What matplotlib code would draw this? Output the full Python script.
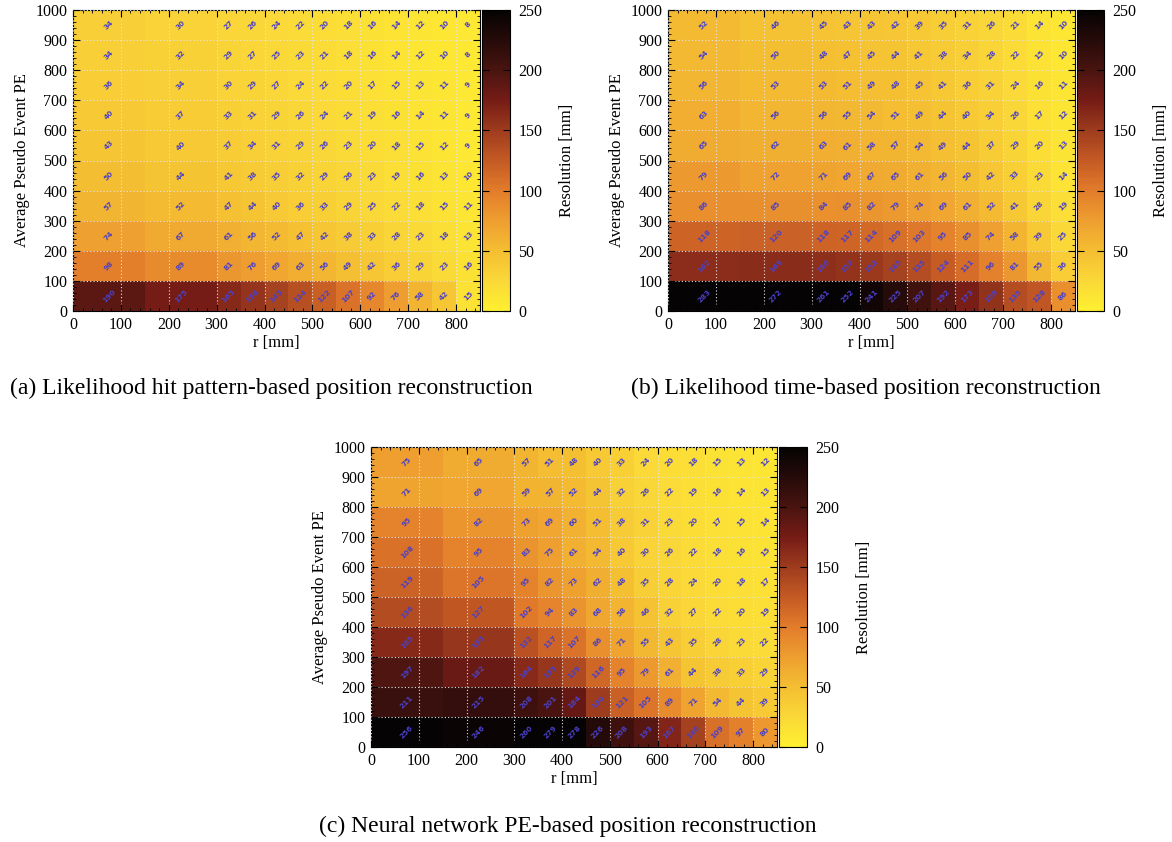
import numpy as np
import matplotlib
matplotlib.use("Agg")
import matplotlib.pyplot as plt
from matplotlib.colors import LinearSegmentedColormap
from matplotlib.ticker import AutoMinorLocator, MultipleLocator

plt.rcParams['font.family'] = ['Liberation Serif', 'DejaVu Serif']

# r bin edges [mm] and PE bin edges
r_edges = [0, 150, 300, 350, 400, 450, 500, 550, 600, 650, 700, 750, 800, 850]
pe_edges = [0, 100, 200, 300, 400, 500, 600, 700, 800, 900, 1000]

# Resolution [mm], rows listed from PE bin 900-1000 (top) down to 0-100 (bottom)
res_hit = [
    [34, 30, 27, 26, 24, 22, 20, 18, 16, 14, 12, 10, 8],
    [34, 32, 29, 27, 25, 23, 21, 18, 16, 14, 12, 10, 8],
    [36, 34, 30, 29, 27, 24, 22, 20, 17, 15, 13, 11, 9],
    [40, 37, 33, 31, 29, 26, 24, 21, 19, 16, 14, 11, 9],
    [43, 40, 37, 34, 31, 29, 26, 23, 20, 18, 15, 12, 9],
    [50, 44, 41, 38, 35, 32, 29, 26, 23, 19, 16, 13, 10],
    [57, 52, 47, 44, 40, 36, 33, 29, 25, 22, 18, 15, 11],
    [74, 67, 61, 56, 52, 47, 42, 38, 33, 28, 23, 18, 13],
    [98, 89, 81, 76, 69, 63, 56, 49, 42, 36, 29, 23, 16],
    [190, 175, 165, 156, 145, 134, 122, 107, 92, 76, 58, 42, 15],
]
res_time = [
    [52, 46, 45, 43, 43, 42, 39, 35, 31, 26, 21, 14, 10],
    [54, 50, 48, 47, 45, 44, 41, 38, 34, 28, 22, 15, 10],
    [56, 53, 53, 51, 49, 48, 45, 41, 36, 31, 24, 16, 11],
    [63, 56, 56, 55, 54, 51, 49, 44, 40, 34, 26, 17, 12],
    [65, 62, 63, 61, 58, 57, 54, 49, 44, 37, 29, 20, 13],
    [79, 72, 71, 69, 67, 65, 61, 56, 50, 42, 33, 23, 14],
    [86, 85, 84, 85, 82, 79, 74, 69, 61, 52, 41, 28, 19],
    [118, 120, 118, 117, 114, 109, 103, 95, 85, 74, 58, 39, 25],
    [162, 163, 160, 157, 152, 145, 135, 124, 111, 96, 81, 55, 36],
    [283, 272, 261, 252, 241, 225, 207, 192, 173, 158, 135, 128, 86],
]
res_nn = [
    [75, 65, 57, 51, 48, 40, 33, 24, 20, 18, 15, 13, 12],
    [71, 69, 59, 57, 52, 44, 32, 26, 22, 19, 16, 14, 13],
    [95, 82, 73, 69, 60, 51, 38, 31, 23, 20, 17, 15, 14],
    [108, 95, 83, 75, 61, 54, 40, 30, 26, 22, 18, 16, 15],
    [119, 105, 95, 82, 73, 62, 48, 35, 28, 24, 20, 18, 17],
    [136, 127, 102, 94, 83, 68, 58, 46, 32, 27, 22, 20, 19],
    [165, 155, 132, 117, 107, 86, 71, 55, 43, 35, 28, 23, 22],
    [197, 182, 164, 155, 139, 116, 95, 79, 61, 44, 38, 33, 29],
    [211, 215, 208, 201, 184, 150, 121, 105, 89, 71, 54, 44, 39],
    [256, 246, 260, 279, 278, 226, 208, 193, 167, 146, 109, 97, 80],
]
captions = [
    "(a) Likelihood hit pattern-based position reconstruction",
    "(b) Likelihood time-based position reconstruction",
    "(c) Neural network PE-based position reconstruction",
]

cmap = LinearSegmentedColormap.from_list("res", [
    (0.0, "#FFF030"), (0.1, "#FAD838"), (0.2, "#F4BE32"), (0.3, "#EE9E30"),
    (0.4, "#E27C2B"), (0.5, "#C45A24"), (0.6, "#9E3C1E"), (0.7, "#761C16"),
    (0.8, "#4A1410"), (0.9, "#260B09"), (1.0, "#050303")])

W, H = 1172, 842
fig = plt.figure(figsize=(W / 100, H / 100), dpi=100)


def px_axes(x0, y0, x1, y1):
    return fig.add_axes([x0 / W, 1 - y1 / H, (x1 - x0) / W, (y1 - y0) / H])


def draw(data, ax_box, cb_box, cap, cap_xy):
    ax = px_axes(*ax_box)
    cax = px_axes(*cb_box)
    z = np.array(data[::-1], dtype=float)
    mesh = ax.pcolormesh(r_edges, pe_edges, z, cmap=cmap, vmin=0, vmax=250,
                         shading='flat', rasterized=True)
    xc = [(a + b) / 2 for a, b in zip(r_edges[:-1], r_edges[1:])]
    yc = [(a + b) / 2 for a, b in zip(pe_edges[:-1], pe_edges[1:])]
    for i, yv in enumerate(yc):
        for j, xv in enumerate(xc):
            ax.text(xv, yv, f"{int(z[i, j])}", rotation=45, ha='center',
                    va='center', fontsize=5.3, color='#4A40C8',
                    family='DejaVu Sans', fontweight='bold')
    ax.set_xlim(0, 850)
    ax.set_ylim(0, 1000)
    ax.xaxis.set_major_locator(MultipleLocator(100))
    ax.yaxis.set_major_locator(MultipleLocator(100))
    ax.xaxis.set_minor_locator(AutoMinorLocator(5))
    ax.yaxis.set_minor_locator(AutoMinorLocator(5))
    ax.tick_params(which='both', direction='in', top=True, right=True,
                   labelsize=11.5, pad=4)
    ax.tick_params(which='major', length=5)
    ax.tick_params(which='minor', length=2.5)
    ax.grid(True, which='major', color='#e4e4e4', linestyle=(0, (1, 2)),
            linewidth=0.8)
    ax.set_axisbelow(False)
    ax.set_xlabel("r [mm]", fontsize=12, labelpad=2)
    ax.set_ylabel("Average Pseudo Event PE", fontsize=12, labelpad=4)
    cb = fig.colorbar(mesh, cax=cax)
    cb.set_ticks([0, 50, 100, 150, 200, 250])
    cb.ax.tick_params(direction='in', length=5, labelsize=11.5, pad=6,
                      left=True, right=True)
    cb.outline.set_linewidth(0.8)
    cb.set_label("Resolution [mm]", fontsize=12, labelpad=12)
    fig.text(cap_xy[0] / W, 1 - cap_xy[1] / H, cap, ha='center', va='center',
             fontsize=17)


draw(res_hit, (73, 10, 480, 311), (482, 10, 510, 311), captions[0], (271, 388))
draw(res_time, (668, 10, 1075, 311), (1077, 10, 1104, 311), captions[1], (866, 388))
draw(res_nn, (371, 447, 777, 747), (779, 447, 807, 747), captions[2], (568, 826))

fig.savefig("out.png", dpi=100)
